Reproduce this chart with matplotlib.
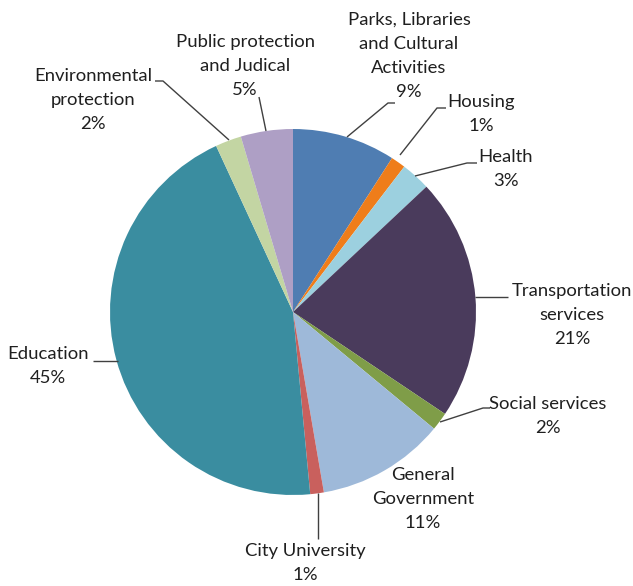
import matplotlib
matplotlib.use("Agg")
import matplotlib.pyplot as plt

W, H = 633, 586

categories = [
    "Parks, Libraries\nand Cultural\nActivities",
    "Housing",
    "Health",
    "Transportation\nservices",
    "Social services",
    "General\nGovernment",
    "City University",
    "Education",
    "Environmental\nprotection",
    "Public protection\nand Judical",
]
shares = [9.1, 1.3, 2.6, 21.4, 1.6, 11.3, 1.2, 44.6, 2.3, 4.6]
colors = ["#4F7DB2", "#EF7D1A", "#9CD0DF", "#4A3B5C", "#7F9D48",
          "#9EB9D9", "#C9605D", "#3A8DA0", "#C3D5A3", "#AE9FC5"]

# label block centres and leader polylines, in pixel coords (y down)
label_pos = [(409, 56), (481, 114), (506, 169), (572, 315), (548, 416),
             (423, 499), (305, 563), (48, 366), (93, 100), (245, 66)]
leaders = [
    [(347, 137), (388, 103), (395, 103)],
    [(400, 155), (437, 108), (446, 108)],
    [(415, 176), (467, 163), (477, 163)],
    [(475, 297), (508, 297)],
    [(440, 422), (483, 408), (490, 408)],
    None,
    [(318, 493), (318, 539)],
    [(93, 361), (118, 361)],
    [(155, 81), (163, 81), (229, 140)],
    [(259, 97), (266, 131)],
]

plt.rcParams["font.family"] = ["Lato", "DejaVu Sans"]

fig = plt.figure(figsize=(W / 100, H / 100), dpi=100)
ax = fig.add_axes([0, 0, 1, 1])

ax.pie(shares, colors=colors, center=(293, H - 312), radius=183,
       startangle=90, counterclock=False,
       wedgeprops=dict(linewidth=0))

for name, val, (x, y), pts in zip(categories, shares, label_pos, leaders):
    ax.text(x, H - y, f"{name}\n{val:.0f}%", ha="center", va="center",
            fontsize=13.3, color="#1f1f1f", linespacing=1.64)
    if pts:
        xs = [p[0] for p in pts]
        ys = [H - p[1] for p in pts]
        ax.plot(xs, ys, color="#404040", lw=1.0, solid_capstyle="butt")

ax.set_xlim(0, W)
ax.set_ylim(0, H)
ax.set_aspect("equal")
ax.axis("off")

fig.savefig("out.png", dpi=100, facecolor="white")
